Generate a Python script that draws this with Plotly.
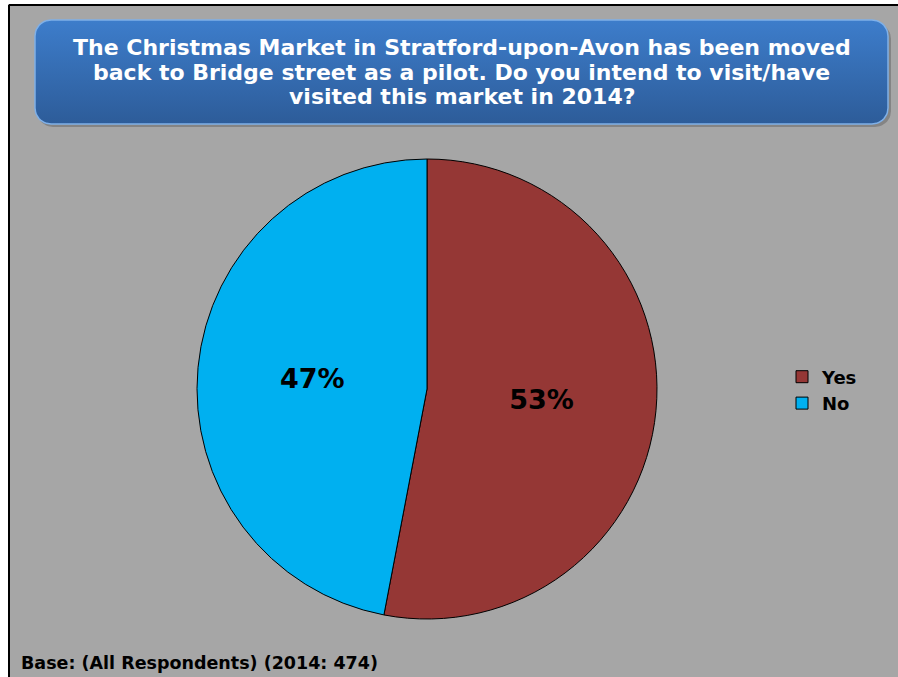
import numpy as np
import plotly.graph_objects as go

W, H = 898, 677

categories = ["Yes", "No"]
values = [53, 47]
colors = ["#953735", "#00B0F0"]

title_lines = [
    "The Christmas Market in Stratford-upon-Avon has been moved",
    "back to Bridge street as a pilot. Do you intend to visit/have",
    "visited this market in 2014?",
]
footer = "Base: (All Respondents) (2014: 474)"

FONT = "DejaVu Sans"

fig = go.Figure()

# rounded title box (gradient fill via scatter)
def rounded_rect(x0, y0, x1, y1, r, n=12):
    xs, ys = [], []
    corners = [
        (x1 - r, y0 + r, -np.pi / 2, 0),
        (x1 - r, y1 - r, 0, np.pi / 2),
        (x0 + r, y1 - r, np.pi / 2, np.pi),
        (x0 + r, y0 + r, np.pi, 1.5 * np.pi),
    ]
    for cx, cy, a0, a1 in corners:
        t = np.linspace(a0, a1, n)
        xs.extend(cx + r * np.cos(t))
        ys.extend(cy + r * np.sin(t))
    xs.append(xs[0]); ys.append(ys[0])
    return xs, ys

# shadow
sx, sy = rounded_rect(37, 23, 891, 127, 16)
fig.add_trace(go.Scatter(x=sx, y=sy, fill="toself", fillcolor="rgba(90,90,90,0.45)",
                         line=dict(width=0), mode="lines", hoverinfo="skip", showlegend=False))
bx, by = rounded_rect(35, 20, 888, 124, 16)
fig.add_trace(go.Scatter(
    x=bx, y=by, fill="toself", mode="lines",
    line=dict(color="#7FB0E8", width=1.5),
    fillgradient=dict(type="vertical",
                      colorscale=[[0, "#2D5C99"], [1, "#3D7DCB"]]),
    hoverinfo="skip", showlegend=False))

fig.add_trace(go.Pie(
    labels=categories, values=values, sort=False, direction="clockwise", rotation=0,
    marker=dict(colors=colors, line=dict(color="black", width=1)),
    textinfo="percent", textposition="inside", insidetextorientation="horizontal",
    textfont=dict(family=FONT, size=27, color="black", weight="bold"),
    domain=dict(x=[197 / W, 657 / W], y=[1 - 619 / H, 1 - 159 / H]),
    hoverinfo="label+percent",
))

for line, yc in zip(title_lines, [47, 72, 96]):
    fig.add_annotation(
        x=461.5, y=yc, xref="x", yref="y", showarrow=False, yanchor="middle",
        text=line, align="center",
        font=dict(family=FONT, size=22, color="white", weight="bold"),
    )
fig.add_annotation(
    x=19, y=663, xref="x", yref="y", showarrow=False, xanchor="left", yanchor="middle",
    text=footer, font=dict(family=FONT, size=17.5, color="black", weight="bold"),
)

fig.update_layout(
    width=W, height=H, margin=dict(l=0, r=0, t=0, b=0),
    paper_bgcolor="#A6A6A6", plot_bgcolor="rgba(0,0,0,0)",
    xaxis=dict(range=[0, W], visible=False, fixedrange=True),
    yaxis=dict(range=[H, 0], visible=False, fixedrange=True),
    shapes=[
        dict(type="rect", xref="paper", yref="paper", x0=-0.05, y0=-0.05, x1=8 / W, y1=1.05,
             fillcolor="white", line=dict(width=0), layer="below"),
        dict(type="rect", xref="paper", yref="paper", x0=-0.05, y0=1 - 4 / H, x1=1.05, y1=1.05,
             fillcolor="white", line=dict(width=0), layer="below"),
        dict(type="line", xref="paper", yref="paper", x0=9 / W, y0=-0.05, x1=9 / W, y1=1 - 5 / H,
             line=dict(color="black", width=2), layer="below"),
        dict(type="line", xref="paper", yref="paper", x0=9 / W, y0=1 - 5 / H, x1=1.05, y1=1 - 5 / H,
             line=dict(color="black", width=2), layer="below"),
    ],
    legend=dict(x=782 / W, y=1 - 390 / H, xanchor="left", yanchor="middle",
                font=dict(family=FONT, size=18, color="black", weight="bold"),
                bgcolor="rgba(0,0,0,0)", itemwidth=30, tracegroupgap=0),
    showlegend=True,
)

fig.write_html(
    "out.html",
    config={"displayModeBar": False},
    post_script="var d=document.documentElement;d.style.overflow='hidden';d.style.margin='0';"
                "d.style.background='#A6A6A6';"
                "document.body.style.margin='0';document.body.style.overflow='hidden';"
                "document.body.style.background='#A6A6A6';",
)
